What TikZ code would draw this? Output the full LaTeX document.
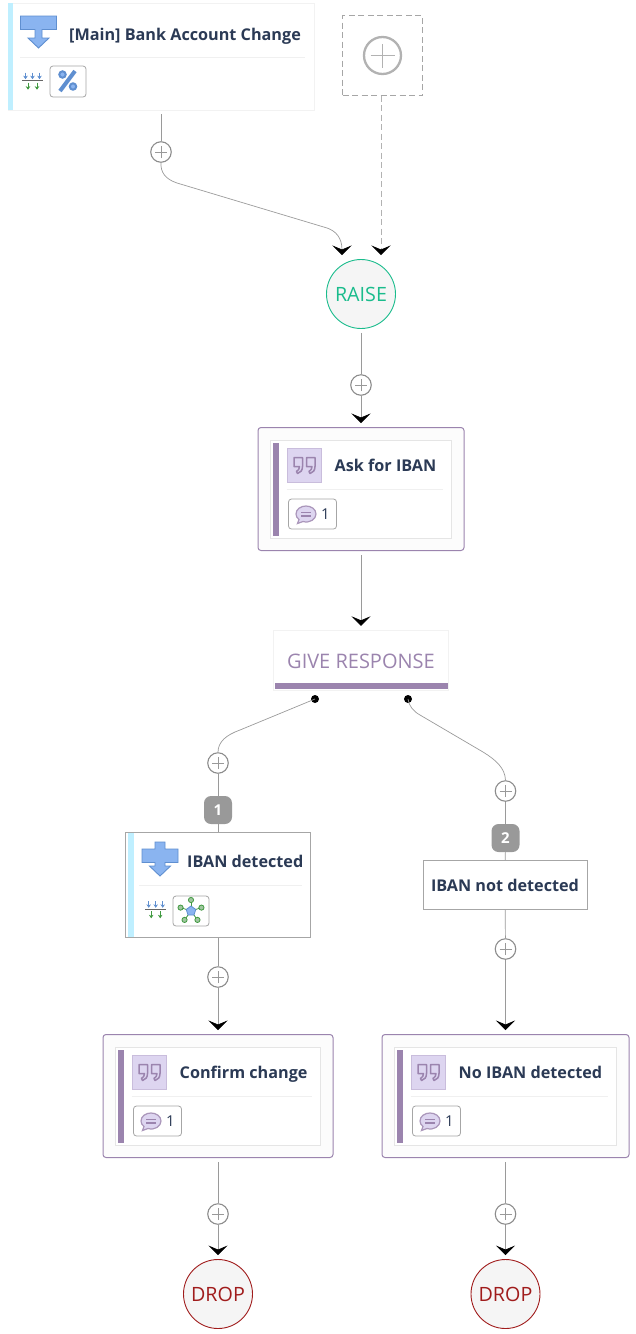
\documentclass[tikz,border=0pt]{standalone}
\usepackage{fontspec}
\setmainfont{Open Sans}
\usetikzlibrary{shapes,arrows.meta,positioning,calc}
\definecolor{titleink}{HTML}{2B3A55}
\definecolor{linkgray}{HTML}{9A9A9A}
\definecolor{replypurple}{HTML}{9B84AE}
\definecolor{quotefill}{HTML}{DDD5F0}
\definecolor{iconblue}{HTML}{8AB4F0}
\definecolor{iconedge}{HTML}{5F8FD0}
\definecolor{raisegreen}{HTML}{1ABC8C}
\definecolor{dropred}{HTML}{A01C1C}
\tikzstyle{link} = [draw=linkgray, line width=0.7pt]
\tikzstyle{arrowlink} = [link, -{Stealth[length=9.5pt,width=19pt,inset=4pt,color=black]}, shorten >=4pt]
\tikzstyle{input} = [coordinate]
\tikzstyle{card} = [draw=black!5, fill=white, rectangle, inner sep=0pt, minimum height=107pt, minimum width=306pt]
\tikzstyle{condcard} = [draw=black!35, fill=white, rectangle, inner sep=0pt, line width=0.8pt]
\tikzstyle{replycard} = [draw=replypurple, fill=black!1, rectangle, rounded corners=3pt, line width=1pt, inner sep=0pt, minimum height=123pt]
\tikzstyle{replyinner} = [draw=black!10, fill=white]
\tikzstyle{title} = [anchor=west, inner sep=0pt, text height=12pt, text depth=3.5pt, text=titleink, font=\bfseries\fontsize{16.2}{18}\selectfont]
\tikzstyle{state} = [draw, circle, fill=black!4, line width=0.9pt, inner sep=0pt, minimum size=69pt, font=\fontsize{19.7}{22}\selectfont]
\tikzstyle{plusbtn} = [draw=black!45, fill=white, circle, line width=1.1pt, inner sep=0pt, minimum size=20.5pt,
  path picture={\draw [black!40, line width=0.9pt] ([xshift=-6pt]path picture bounding box.center) -- ([xshift=6pt]path picture bounding box.center)
    ([yshift=-6pt]path picture bounding box.center) -- ([yshift=6pt]path picture bounding box.center);}]
\tikzstyle{badge} = [fill=black!40, rounded corners=7pt, minimum size=28pt, inner sep=0pt, text=white, font=\bfseries\fontsize{15}{17}\selectfont]
\tikzstyle{dot} = [fill=black, circle, inner sep=0pt, minimum size=8pt]
\tikzstyle{iconbtn} = [draw=black!35, fill=white, rounded corners=3pt, line width=0.8pt, inner sep=0pt, minimum height=30pt]
\tikzset{
  stopicon/.pic={
    \draw [fill=iconblue, draw=iconedge, line width=0.9pt] (-18,15) -- (18,15) -- (18,1.5) -- (3.5,1.5) -- (3.5,-7) -- (10.5,-7) -- (0,-17)
      -- (-10.5,-7) -- (-3.5,-7) -- (-3.5,1.5) -- (-18,1.5) -- cycle;
  },
  starticon/.pic={
    \draw [fill=iconblue, draw=iconedge, line width=0.9pt] (-5,17) -- (5,17) -- (5,10) -- (18,10) -- (18,-3.5) -- (5,-3.5) -- (5,-7) -- (10.5,-7)
      -- (0,-17) -- (-10.5,-7) -- (-5,-7) -- (-5,-3.5) -- (-18,-3.5) -- (-18,10) -- (-5,10) -- cycle;
  },
  filtericon/.pic={
    \draw [black!60, line width=1.1pt] (-10.5,0) -- (10.5,0);
    \foreach \x in {-7,0,7}
      \draw [iconedge, line width=0.8pt, -{Stealth[length=3.5pt,width=4.5pt]}] (\x,8) -- (\x,1.5);
    \foreach \x in {-4.5,4.5}
      \draw [black!30!green!50!gray, line width=0.8pt, -{Stealth[length=3.5pt,width=4.5pt]}] (\x,-2) -- (\x,-9);
  },
  percenticon/.pic={
    \draw [iconedge, line width=4pt] (7,10.5) -- (-8,-9.5);
    \draw [iconedge, fill=iconblue, line width=2pt] (-5.5,7) circle (3.2pt) (5,-5) circle (3.2pt);
  },
  networkicon/.pic={
    \foreach \a in {90,162,234,306,18}{
      \draw [black!30!green!50!gray, line width=0.8pt] (0,0) -- (\a:10);
      \draw [draw=black!30!green!50!gray, fill=green!25!gray!60, line width=0.8pt] (\a:11) circle (2.6pt);
    }
    \draw [draw=iconedge, fill=iconblue, line width=0.8pt] (90:5) -- (162:5) -- (234:5) -- (306:5) -- (18:5) -- cycle;
  },
  quoteicon/.pic={
    \draw [draw=quotefill!70!replypurple, fill=quotefill, line width=1pt] (-17,-17) rectangle (17,17);
    \foreach \x in {0,12.5}
      \draw [replypurple, line width=1.5pt, line join=round, xshift=\x pt] (-10.5,8) -- (-2,8) -- (-2,-1) .. controls (-2,-5) and (-4,-7) .. (-7,-8)
        -- (-8,-6) .. controls (-6,-5) and (-5,-3) .. (-5,-1) -- (-10.5,-1) -- cycle;
  },
  bubbleicon/.pic={
    \draw [draw=replypurple!85, fill=quotefill, line width=1.2pt] (-7,-5.5) -- (-8.5,-9.5) -- (-3,-7.5) .. controls (4,-9.5) and (10,-5) .. (10,0)
      .. controls (10,5) and (5,8) .. (0,8) .. controls (-5,8) and (-10,5) .. (-10,0) .. controls (-10,-2) and (-9,-4) .. (-7,-5.5) -- cycle;
    \draw [replypurple, line width=1.1pt] (-5,1.8) -- (5,1.8) (-5,-2) -- (5,-2);
  }
}
\newcommand{\replybody}[2]{
  \draw [replyinner] ([shift={(13pt,-13pt)}]#1.north west) rectangle ([shift={(-13pt,13pt)}]#1.south east);
  \fill [replypurple] ([shift={(15.5pt,-15.5pt)}]#1.north west) rectangle ([shift={(21pt,15pt)}]#1.south west);
  \pic at ([shift={(47pt,-38.5pt)}]#1.north west) {quoteicon};
  \node [title] (#1title) at ([shift={(77pt,-40.25pt)}]#1.north west) {#2};
  \draw [black!6, line width=1pt] ([shift={(29pt,-62pt)}]#1.north west) -- ([shift={(-22pt,-62pt)}]#1.north east);
  \node [iconbtn, minimum width=48pt] (#1btn) at ([shift={(55pt,-87pt)}]#1.north west) {};
  \pic at ([xshift=-6.5pt]#1btn.center) {bubbleicon};
  \node [inner sep=0pt, text=titleink, font=\fontsize{15}{17}\selectfont] (#1count) at ([xshift=13pt]#1btn.center) {1};
}
\begin{document}
\begin{tikzpicture}[x=1pt, y=1pt, node distance=100pt]
    \useasboundingbox (0,0) rectangle (635,-1334);
    % Entry row
    \node [card] (main) at (161,-56.5) {};
    \node [draw=black!35, dash pattern=on 6pt off 3.5pt, rectangle, inner sep=0pt, minimum size=80pt] (addentry) at (382.5,-55.5) {};
    \node [draw=black!30, fill=white, circle, line width=2.3pt, inner sep=0pt, minimum size=37pt] (addicon) at (addentry) {};
    \node [state, draw=raisegreen, text=raisegreen] (raise) at (361,-294) {RAISE};
    \node [input, above of=raise, xshift=-19pt, node distance=35pt] (raisein) {};
    \node [input, above of=raise, xshift=20pt, node distance=35pt] (raiseadd) {};
    \node [plusbtn, below of=main, node distance=95.5pt] (mainplus) {};
    \node [plusbtn, below of=raise, node distance=91pt] (raiseplus) {};

    % Middle
    \node [replycard, minimum width=206pt, below of=raiseplus, node distance=104pt] (ask) {};
    \node [draw=black!5, fill=white, rectangle, inner sep=0pt, minimum height=60pt, minimum width=175pt, below of=ask, node distance=171pt] (give) {};
    \node [dot, below of=give, xshift=-46pt, node distance=39pt] (leftdot) {};
    \node [dot, below of=give, xshift=47pt, node distance=39pt] (rightdot) {};

    % Left branch
    \node [plusbtn, below of=give, xshift=-143pt, node distance=103pt] (leftplus) {};
    \node [badge, below of=leftplus, node distance=47pt] (firstbadge) {1};
    \node [condcard, minimum width=185pt, minimum height=105pt, below of=firstbadge, node distance=75pt] (detected) {};
    \node [plusbtn, below of=detected, node distance=92pt] (detectedplus) {};
    \node [replycard, minimum width=230pt, below of=detectedplus, node distance=119pt] (confirm) {};
    \node [plusbtn, below of=confirm, node distance=118pt] (confirmplus) {};
    \node [state, draw=dropred, text=dropred, below of=confirmplus, node distance=80pt] (leftdrop) {DROP};

    % Right branch
    \node [plusbtn, below of=give, xshift=144.5pt, node distance=131pt] (rightplus) {};
    \node [badge, below of=rightplus, node distance=47pt] (secondbadge) {2};
    \node [condcard, minimum width=164pt, minimum height=49pt, below of=secondbadge, xshift=-0.5pt, node distance=47pt] (notdetected) {};
    \node [plusbtn, below of=notdetected, xshift=0.5pt, node distance=64pt] (notdetectedplus) {};
    \node [replycard, minimum width=247pt, below of=notdetectedplus, node distance=147pt] (noiban) {};
    \node [plusbtn, below of=noiban, node distance=118pt] (nodetailplus) {};
    \node [state, draw=dropred, text=dropred, below of=nodetailplus, node distance=80pt] (rightdrop) {DROP};

    % Card details
    \fill [blue!25!cyan!25] (main.north west) rectangle ([xshift=5pt]main.south west);
    \pic at (38.5,-31) {stopicon};
    \node [title] (maintitle) at (69,-35.75) {[Main] Bank Account Change};
    \draw [black!6, line width=1pt] (20,-57) -- (305,-57);
    \pic at (32.5,-80.7) {filtericon};
    \node [iconbtn, minimum width=36pt, minimum height=31pt] (mainbtn) at (68,-81.5) {};
    \pic at (mainbtn.center) {percenticon};

    \draw [draw=black!30, line width=1.8pt] ([xshift=-12pt]addicon.center) -- ([xshift=12pt]addicon.center)
        ([yshift=-12pt]addicon.center) -- ([yshift=12pt]addicon.center);

    \replybody{ask}{Ask for IBAN}
    \replybody{confirm}{Confirm change}
    \replybody{noiban}{No IBAN detected}

    \fill [replypurple] ([shift={(2pt,1pt)}]give.south west) rectangle ([shift={(-1pt,7pt)}]give.south east);
    \node [inner sep=0pt, text=replypurple, font=\fontsize{20}{22}\selectfont] (givetext) at ([yshift=-1pt]give.center) {GIVE RESPONSE};

    \fill [blue!25!cyan!25] ([shift={(3pt,-1pt)}]detected.north west) rectangle ([shift={(9pt,1pt)}]detected.south west);
    \pic at (160,-859) {starticon};
    \node [title] (detectedtitle) at (187,-863.4) {IBAN detected};
    \draw [black!6, line width=1pt] (139,-885) -- (302,-885);
    \pic at (155.7,-909.3) {filtericon};
    \node [iconbtn, minimum width=36pt] (detectedbtn) at (191,-911) {};
    \pic at (detectedbtn.center) {networkicon};
    \node [inner sep=0pt, text=titleink, font=\bfseries\fontsize{16.2}{18}\selectfont] (notdetectedtitle) at (notdetected) {IBAN not detected};

    % Connections
    \draw [link, shorten <=4pt] (main.south -| mainplus) -- (mainplus);
    \draw [arrowlink] (mainplus.south) .. controls (160.5,-172) and (165,-179) .. (177,-183) -- (327,-228) .. controls (336,-231) and (342,-238) .. (raisein);
    \draw [arrowlink, draw=black!30, dash pattern=on 6pt off 3.5pt, line width=1pt] (addentry.south -| raiseadd) -- (raiseadd);
    \draw [link, shorten <=4pt] (raise) -- (raiseplus);
    \draw [arrowlink] (raiseplus) -- (ask);
    \draw [arrowlink, shorten <=4pt] (ask) -- (give);
    \draw [link] (leftdot.center) -- (240,-730) .. controls (226,-735) and (218,-742) .. (leftplus.north);
    \draw [link] (rightdot.center) .. controls (409,-706) and (413,-711) .. (420,-715) -- (483,-752) .. controls (496,-760) and (505,-768) .. (rightplus.north);
    \draw [link] (leftplus) -- (firstbadge);
    \draw [link] (firstbadge) -- (detected);
    \draw [link] (detected) -- (detectedplus);
    \draw [arrowlink] (detectedplus) -- (confirm);
    \draw [link, shorten <=4pt] (confirm) -- (confirmplus);
    \draw [arrowlink] (confirmplus) -- (leftdrop);
    \draw [link] (rightplus) -- (secondbadge);
    \draw [link] (secondbadge) -- (notdetected);
    \draw [link] (notdetected) -- (notdetectedplus);
    \draw [arrowlink] (notdetectedplus) -- (noiban);
    \draw [link, shorten <=4pt] (noiban) -- (nodetailplus);
    \draw [arrowlink] (nodetailplus) -- (rightdrop);
\end{tikzpicture}
\end{document}
